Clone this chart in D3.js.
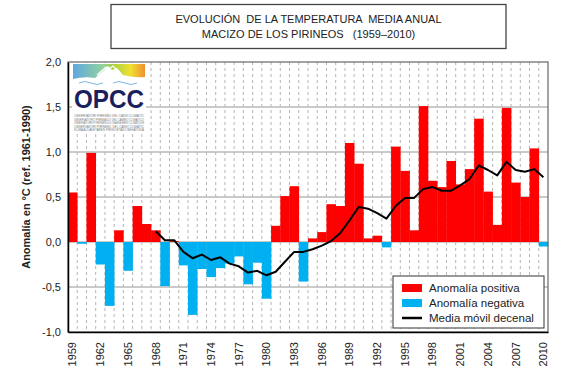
<!DOCTYPE html>
<html>
<head>
<meta charset="utf-8">
<script src="https://cdn.jsdelivr.net/npm/d3@7"></script>
<style>
  body { margin: 0; background: #fff; }
  svg { display: block; font-family: "Liberation Sans", Arial, sans-serif; }
</style>
</head>
<body>
<svg width="564" height="384"></svg>
<script>
var years = d3.range(1959, 2011);
var anomalia = [
  0.55, -0.02, 0.99, -0.25, -0.71, 0.13, -0.32, 0.40, 0.20, 0.13,
  -0.49, 0.01, -0.26, -0.81, -0.30, -0.39, -0.29, -0.24, -0.16, -0.47,
  -0.23, -0.63, 0.18, 0.51, 0.62, -0.44, 0.04, 0.11, 0.42, 0.40,
  1.10, 0.87, 0.04, 0.07, -0.06, 1.06, 0.79, 0.13, 1.51, 0.68,
  0.61, 0.90, 0.64, 0.81, 1.37, 0.56, 0.19, 1.49, 0.66, 0.50,
  1.04, -0.05
];
// media movil decenal, desde 1968
var mediaYears = d3.range(1968, 2011);
var media = [
  0.12, 0.02, 0.02, -0.11, -0.18, -0.14, -0.20, -0.17, -0.24, -0.27,
  -0.34, -0.32, -0.37, -0.33, -0.22, -0.11, -0.11, -0.08, -0.04, 0.01,
  0.10, 0.24, 0.39, 0.37, 0.32, 0.26, 0.40, 0.49, 0.49, 0.59,
  0.61, 0.57, 0.57, 0.63, 0.70, 0.85, 0.80, 0.74, 0.89, 0.80,
  0.78, 0.81, 0.72
];
var yTicks = [-1, -0.5, 0, 0.5, 1, 1.5, 2];
var xLabels = d3.range(1959, 2011, 3);
var legendItems = ["Anomalía positiva", "Anomalía negativa", "Media móvil decenal"];

var svg = d3.select("svg");
var pLeft = 68, pRight = 548, pTop = 62, pBottom = 332;

var x = d3.scaleBand().domain(years).range([pLeft, pRight]).padding(0);
var y = d3.scaleLinear().domain([-1, 2]).range([pBottom, pTop]);
var fmt = function(v) { return d3.format(".1f")(v).replace("−", "-").replace(".", ","); };

// titulo
svg.append("rect")
  .attr("x", 111).attr("y", 4.5).attr("width", 395).attr("height", 44)
  .attr("fill", "#fff").attr("stroke", "#444").attr("stroke-width", 1.3);
var title = svg.append("text")
  .attr("text-anchor", "middle").attr("font-size", 11).attr("fill", "#222")
  .style("white-space", "pre");
title.append("tspan").attr("x", 308.5).attr("y", 23).text("EVOLUCIÓN  DE LA TEMPERATURA  MEDIA ANUAL");
title.append("tspan").attr("x", 308.5).attr("y", 38).text("MACIZO DE LOS PIRINEOS   (1959–2010)");

// rejilla vertical (discontinua)
svg.append("g").selectAll("line")
  .data(years.slice(1))
  .enter().append("line")
  .attr("x1", function(d) { return x(d); })
  .attr("x2", function(d) { return x(d); })
  .attr("y1", pTop).attr("y2", pBottom)
  .attr("stroke", "#b4b4b4").attr("stroke-width", 1)
  .attr("stroke-dasharray", "3,3");

// rejilla horizontal
svg.append("g").selectAll("line")
  .data(yTicks.filter(function(d) { return d > -1 && d < 2; }))
  .enter().append("line")
  .attr("x1", pLeft).attr("x2", pRight)
  .attr("y1", function(d) { return y(d); })
  .attr("y2", function(d) { return y(d); })
  .attr("stroke", "#b8b8b8").attr("stroke-width", 1.5);

// logo OPCC
var logo = svg.append("g").attr("transform", "translate(73,63)");
var grad = svg.append("defs").append("linearGradient").attr("id", "lg");
[["0%", "#5fa8e0"], ["40%", "#8fd0a0"], ["55%", "#a8d040"], ["80%", "#f0e030"], ["100%", "#f09030"]]
  .forEach(function(s) { grad.append("stop").attr("offset", s[0]).attr("stop-color", s[1]); });
logo.append("rect").attr("x", -1).attr("y", 0).attr("width", 74).attr("height", 69).attr("fill", "#fff");
logo.append("rect").attr("x", 0).attr("y", 1).attr("width", 72).attr("height", 17).attr("fill", "url(#lg)");
logo.append("path")
  .attr("d", "M0,18 L0,16 Q12,13 22,15 L30,8 L35,3 L39,7 L44,5 L50,12 Q62,15 72,14 L72,18 Z")
  .attr("fill", "#fff");
logo.append("path")
  .attr("d", "M24,12 L33,4 L36,6 L40,3 L48,11")
  .attr("fill", "none").attr("stroke", "#fff").attr("stroke-width", 1.2);
logo.append("path")
  .attr("d", "M6,20 Q12,17 18,20 T30,20 M40,20 Q46,17 52,20 T64,20")
  .attr("fill", "none").attr("stroke", "#7ab8e0").attr("stroke-width", 1);
logo.append("text")
  .attr("x", 36).attr("y", 45).attr("text-anchor", "middle")
  .attr("font-size", 26).attr("font-weight", "bold").attr("fill", "#1b1f5e")
  .attr("textLength", 70).attr("lengthAdjust", "spacingAndGlyphs")
  .text("OPCC");
["OBSERVATORI PIRENÈU DEL CANVI CLIMÀTIC", "OBSERVATORIO PIRENAICO DEL CAMBIO CLIMÁTICO",
 "OBSERVATOIRE PYRÉNÉEN DU CHANGEMENT CLIMATIQUE", "OBSERVATORI PIRINENC DEL CANVI CLIMÀTIC",
 "KLIMA ALDAKETAREN PIRINIOETAKO BEHATOKIA"].forEach(function(t, i) {
  logo.append("text")
    .attr("x", 1).attr("y", 54 + i * 3.5)
    .attr("font-size", 2.8).attr("fill", "#777")
    .attr("textLength", 70).attr("lengthAdjust", "spacingAndGlyphs")
    .text(t);
});

// barras
svg.append("g").selectAll("rect")
  .data(years)
  .enter().append("rect")
  .attr("x", function(d) { return x(d); })
  .attr("width", x.bandwidth() + 0.3)
  .attr("y", function(d, i) { return y(Math.max(0, anomalia[i])); })
  .attr("height", function(d, i) { return Math.abs(y(anomalia[i]) - y(0)); })
  .attr("fill", function(d, i) { return anomalia[i] >= 0 ? "#ff0000" : "#00b0f0"; });

// media movil
var line = d3.line()
  .x(function(d, i) { return x(mediaYears[i]) + x.bandwidth() / 2; })
  .y(function(d) { return y(d); });
svg.append("path")
  .datum(media)
  .attr("d", line)
  .attr("fill", "none").attr("stroke", "#000").attr("stroke-width", 2)
  .attr("stroke-linejoin", "round");

// marco del area
svg.append("rect")
  .attr("x", pLeft).attr("y", pTop).attr("width", pRight - pLeft).attr("height", pBottom - pTop)
  .attr("fill", "none").attr("stroke", "#666").attr("stroke-width", 1.2);

// ejes
var yAxis = svg.append("g")
  .attr("transform", "translate(" + pLeft + ",0)")
  .call(d3.axisLeft(y).tickValues(yTicks).tickFormat(fmt).tickSize(0).tickPadding(7));
yAxis.select(".domain").attr("stroke", "#000").attr("stroke-width", 1.5);
yAxis.selectAll("text").attr("font-size", 11).attr("fill", "#222")
  .attr("font-family", "Liberation Sans, Arial, sans-serif");

var xAxis = svg.append("g")
  .attr("transform", "translate(0," + pBottom + ")")
  .call(d3.axisBottom(x).tickValues(xLabels).tickSize(0).tickPadding(0));
xAxis.select(".domain").attr("stroke", "#000").attr("stroke-width", 1.5);
xAxis.selectAll("text")
  .attr("font-size", 11).attr("fill", "#222")
  .attr("font-family", "Liberation Sans, Arial, sans-serif")
  .attr("text-anchor", "end")
  .attr("transform", "translate(0,10) rotate(-90)")
  .attr("x", 0).attr("y", 0).attr("dy", "0.35em");

// titulo eje y
svg.append("text")
  .attr("transform", "translate(30,187) rotate(-90)")
  .attr("text-anchor", "middle")
  .attr("font-size", 11).attr("font-weight", "bold").attr("fill", "#222")
  .text("Anomalía en ºC (ref. 1961-1990)");

// leyenda
var lg = svg.append("g").attr("transform", "translate(393,276)");
lg.append("rect").attr("width", 151).attr("height", 52)
  .attr("fill", "#fff").attr("stroke", "#333").attr("stroke-width", 1);
legendItems.forEach(function(t, i) {
  var cy = 12 + i * 15;
  if (i < 2) {
    lg.append("rect").attr("x", 9).attr("y", cy - 4).attr("width", 20).attr("height", 8)
      .attr("fill", i === 0 ? "#ff0000" : "#00b0f0");
  } else {
    lg.append("line").attr("x1", 9).attr("x2", 29).attr("y1", cy).attr("y2", cy)
      .attr("stroke", "#000").attr("stroke-width", 2.5);
  }
  lg.append("text").attr("x", 36).attr("y", cy).attr("dy", "0.35em")
    .attr("font-size", 11.5).attr("fill", "#222").text(t);
});
</script>
</body>
</html>
